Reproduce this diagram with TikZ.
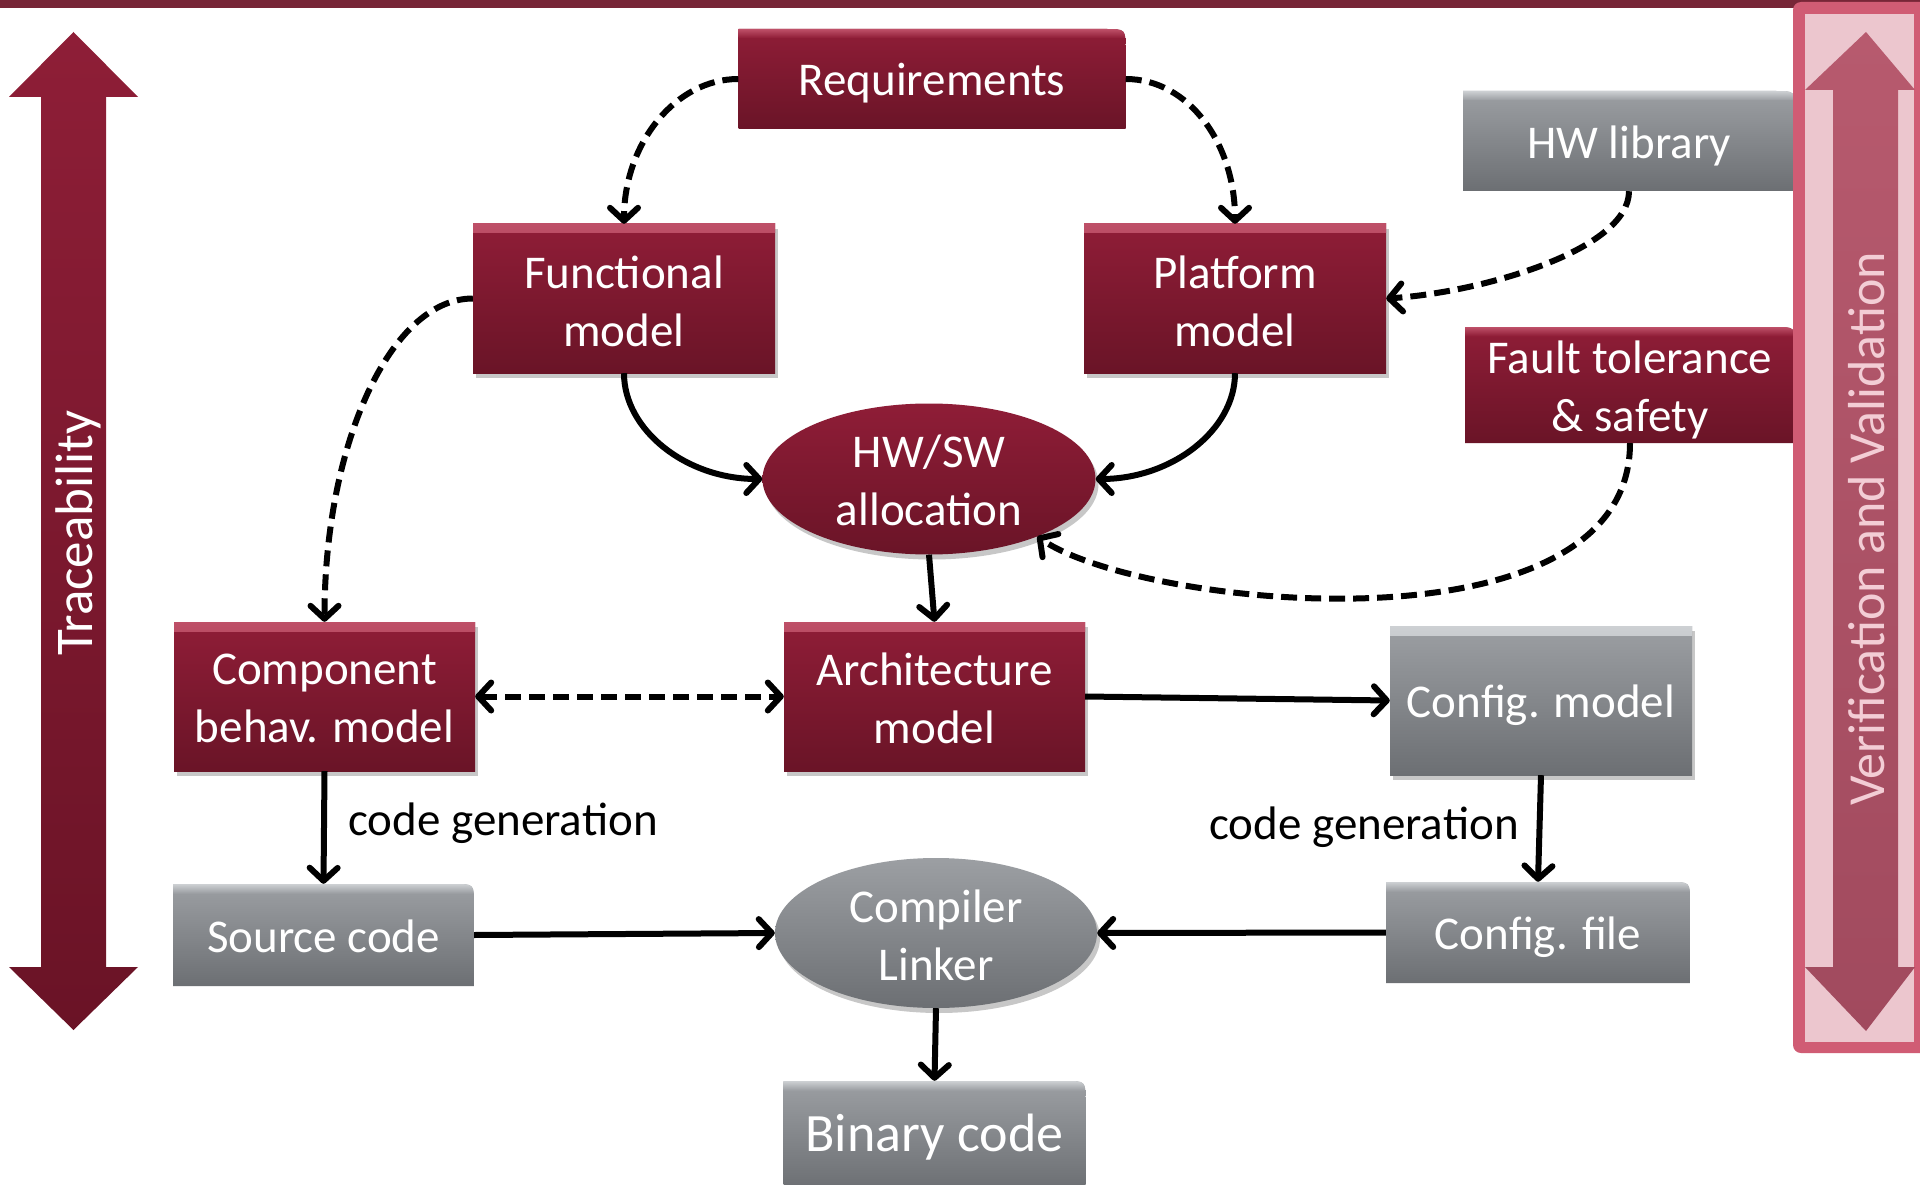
\documentclass[tikz,border=0pt]{standalone}
\usepackage{fontspec}
\setmainfont{Carlito}
\usetikzlibrary{arrows.meta,shapes.geometric,shadows}

\definecolor{redA}{HTML}{8F1D37}
\definecolor{redB}{HTML}{6A1427}
\definecolor{redHL}{HTML}{BE5068}
\definecolor{grayA}{HTML}{9C9FA3}
\definecolor{grayB}{HTML}{6C6F73}
\definecolor{grayHL}{HTML}{CDD0D3}
\definecolor{topbar}{HTML}{772637}
\definecolor{vvborder}{HTML}{D05C74}
\definecolor{vvfill}{HTML}{ECC6CE}
\definecolor{vvarrowA}{HTML}{B75A6E}
\definecolor{vvarrowB}{HTML}{A14A5E}
\definecolor{vvtext}{HTML}{F3CDD5}
\definecolor{trA}{HTML}{8E1E37}
\definecolor{trB}{HTML}{6A1326}

\newcommand\lowtxt[2]{\raisebox{-#1pt}[\height][\depth]{#2}}

\tikzset{
  basebox/.style={rectangle, inner sep=0pt, align=center, text=white,
    font=\fontsize{47}{58}\selectfont},
  softshadow/.style={drop shadow={shadow xshift=3pt, shadow yshift=-5pt, opacity=0.22, fill=black}},
  redbox/.style={basebox, softshadow, top color=redA, bottom color=redB,
    path picture={\shade[top color=redHL, bottom color=redA]
      (path picture bounding box.north west) rectangle ([yshift=-9pt]path picture bounding box.north east);}},
  graybox/.style={basebox, softshadow, top color=grayA, bottom color=grayB,
    path picture={\shade[top color=grayHL, bottom color=grayA]
      (path picture bounding box.north west) rectangle ([yshift=-9pt]path picture bounding box.north east);}},
  roundbox/.style n args={3}{basebox,
    path picture={
      \begin{scope}
      \clip (path picture bounding box.south west) -- (path picture bounding box.north west)
        -- ([xshift=-20pt]path picture bounding box.north east)
        .. controls (path picture bounding box.north east) .. ([yshift=-20pt]path picture bounding box.north east)
        -- (path picture bounding box.south east) -- cycle;
      \shade[top color=#1, bottom color=#2] (path picture bounding box.south west) rectangle (path picture bounding box.north east);
      \shade[top color=#3, bottom color=#1] (path picture bounding box.north west) rectangle ([yshift=-9pt]path picture bounding box.north east);
      \end{scope}}},
  redround/.style={roundbox={redA}{redB}{redHL}},
  grayround/.style={roundbox={grayA}{grayB}{grayHL}},
  redell/.style={ellipse, inner sep=0pt, align=center, text=white, softshadow,
    font=\fontsize{47}{58}\selectfont, top color=redA, bottom color=redB},
  grayell/.style={ellipse, inner sep=0pt, align=center, text=white, softshadow,
    font=\fontsize{47}{58}\selectfont, top color=grayA, bottom color=grayB},
  barb/.tip={Straight Barb[length=13pt,width=28pt,round]},
  conn/.style={line width=6pt, -barb},
  dconn/.style={conn, dash pattern=on 16pt off 8pt},
  lbl/.style={inner sep=0pt, text=black, font=\fontsize{47}{58}\selectfont},
}

\begin{document}
\begin{tikzpicture}[x=1pt,y=1pt]
\useasboundingbox (0,0) rectangle (1920,-1185);
\clip (0,0) rectangle (1920,-1185);
\fill[white] (0,0) rectangle (1920,-1185);

% top bar
\fill[topbar] (0,0) rectangle (1920,-8);

% traceability arrow
\shade[top color=trA, bottom color=trB] (73.5,-32) -- (138,-97) -- (106,-97) -- (106,-967) -- (138,-967)
  -- (73.5,-1030) -- (9,-967) -- (41,-967) -- (41,-97) -- (9,-97) -- cycle;
\node[rotate=90, inner sep=0pt, text=white, font=\fontsize{53}{60}\selectfont] (trace) at (78,-533) {Traceability};

% nodes
\node[redround, minimum width=387pt, minimum height=100pt] (req) at (932,-79) {\lowtxt{4}{Requirements}};
\node[redbox, minimum width=302pt, minimum height=149pt] (func) at (624,-298.5) {\lowtxt{3}{Functional}\\\lowtxt{3}{model}};
\node[redbox, minimum width=302pt, minimum height=149pt] (plat) at (1235,-298.5) {\lowtxt{3}{Platform}\\\lowtxt{3}{model}};
\node[grayround, minimum width=332pt, minimum height=100pt] (hwlib) at (1629,-141) {\lowtxt{5}{HW library}};
\node[redround, minimum width=330pt, minimum height=116pt] (fault) at (1630,-385) {\lowtxt{5}{Fault tolerance}\\\lowtxt{5}{\& safety}};
\node[redell, minimum width=333pt, minimum height=151pt] (hwsw) at (929,-479) {\lowtxt{1}{HW/SW}\\\lowtxt{1}{allocation}};
\node[redbox, minimum width=301pt, minimum height=149pt] (comp) at (324.5,-696.5) {\lowtxt{2}{Component}\\\lowtxt{2}{behav. model}};
\node[redbox, minimum width=301pt, minimum height=149pt] (arch) at (934.5,-696.5) {\lowtxt{2}{Architecture}\\\lowtxt{2}{model}};
\node[graybox, minimum width=302pt, minimum height=149pt] (cfgm) at (1541,-700.5) {\lowtxt{5}{Config. model}};
\node[grayround, minimum width=301pt, minimum height=102pt] (src) at (323.5,-935) {\lowtxt{1}{Source code}};
\node[grayround, minimum width=304pt, minimum height=101pt] (cfgf) at (1538,-932.5) {\lowtxt{5}{Config. file}};
\node[grayell, minimum width=322pt, minimum height=150pt] (cl) at (936,-933) {\lowtxt{2}{Compiler}\\\lowtxt{2}{Linker}};
\node[grayround, minimum width=302pt, minimum height=108pt, font=\fontsize{54}{60}\selectfont] (bin) at (934.5,-1135) {\lowtxt{2}{Binary code}};

\node[lbl] (cg1) at (503,-823) {code generation};
\node[lbl] (cg2) at (1364,-827) {code generation};

% connectors
\draw[dconn] (req.west) .. controls +(-63,0) and +(0,80) .. (func.north);
\draw[dconn] (req.east) .. controls +(63,0) and +(0,80) .. (plat.north);
\draw[dconn] (func.west) .. controls +(-82,0) and +(0,178) .. (comp.north);
\draw[dconn] (hwlib.south) .. controls +(0,-59) and +(95,6) .. (plat.east);
\draw[dconn] (fault.south) .. controls +(0,-215) and +(105,-72) .. (hwsw.-28);
\draw[conn] (func.south) .. controls +(0,-57) and +(-76,0) .. (hwsw.west);
\draw[conn] (plat.south) .. controls +(0,-57) and +(76,0) .. (hwsw.east);
\draw[conn] (hwsw.south) -- (arch.north);
\draw[line width=6pt, dash pattern=on 16pt off 8pt, barb-barb] (comp.east) -- (arch.west);
\draw[conn] (arch.east) -- (cfgm.west);
\draw[conn] (comp.south) -- (src.north);
\draw[conn] (cfgm.south) -- (cfgf.north);
\draw[conn] (src.east) -- (cl.west);
\draw[conn] (cfgf.west) -- (cl.east);
\draw[conn] (cl.south) -- (bin.north);

% verification and validation panel
\fill[vvborder, rounded corners=8pt] (1793,-2) rectangle (1932,-1053);
\fill[vvfill] (1805,-14) rectangle (1914,-1042);
\shade[top color=vvarrowA, bottom color=vvarrowB] (1866,-32) -- (1915,-90) -- (1898,-90) -- (1898,-967) -- (1915,-967)
  -- (1866,-1031) -- (1805,-967) -- (1833,-967) -- (1833,-90) -- (1805,-90) -- cycle;
\node[rotate=90, inner sep=0pt, text=vvtext, font=\fontsize{52}{60}\selectfont] (vv) at (1867,-529) {Verification and Validation};
\end{tikzpicture}
\end{document}
